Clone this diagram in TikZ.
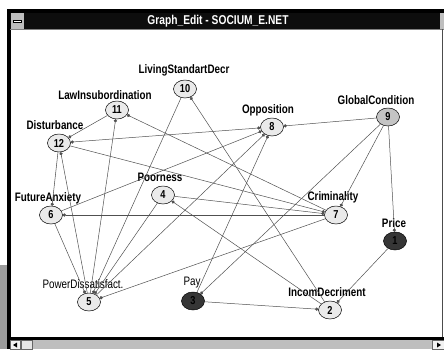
\documentclass[tikz,border=0pt]{standalone}
\usepackage{fontspec}
\setmainfont{Liberation Sans}
\newfontfamily\narrowfont{Liberation Sans}[FakeStretch=0.8]
\usetikzlibrary{arrows.meta,shapes.geometric}

\definecolor{vfill}{HTML}{EAEAEA}
\definecolor{gfill}{HTML}{C4C4C4}
\definecolor{dfill}{HTML}{363636}
\definecolor{linegray}{HTML}{505050}
\definecolor{wingray}{HTML}{BEBEBE}
\definecolor{desk}{HTML}{9C9C9C}

\begin{document}
\begin{tikzpicture}[x=1pt,y=-1pt,
    vertex/.style={ellipse,draw=black,line width=0.5pt,fill=vfill,minimum width=23pt,
      minimum height=18pt,inner sep=0pt,font=\narrowfont\bfseries\fontsize{11.5}{11}\selectfont},
    vlabel/.style={inner sep=0pt,font=\narrowfont\bfseries\fontsize{12.3}{12}\selectfont},
    plainlabel/.style={inner sep=0pt,font=\narrowfont\fontsize{12.3}{12}\selectfont},
    link/.style={draw=linegray,line width=0.5pt,-{Circle[length=3.2pt]}}]
  \useasboundingbox (0,0) rectangle (444,349);

  % window
  \fill[desk] (0,265) rectangle (7,349);
  \fill[black] (7,9) rectangle (444,13);
  \fill[black] (7,9) rectangle (10.5,349);
  \fill[black!95] (10,13) rectangle (440,29);
  \draw[gray,line width=0.8pt] (10,29) -- (444,29);
  \fill[wingray] (10.5,13) rectangle (24,29);
  \draw[black,fill=white,line width=0.5pt] (13,20) rectangle (21,22.5);
  \fill[wingray] (440,13) rectangle (444,29);
  \draw[black!70,line width=0.8pt] (442,29) -- (442,338);
  \node[vlabel,text=white,font=\narrowfont\bfseries\fontsize{12.8}{12}\selectfont]
    (title) at (218,21) {Graph\_Edit - SOCIUM\_E.NET};
  \fill[black] (10,337) rectangle (444,340);
  \fill[wingray] (10.5,340) rectangle (444,349);
  \draw[black!60,fill=white!90!gray,line width=0.5pt] (10.5,340.5) rectangle (20,349);
  \fill[black] (13,345) -- (17,342.5) -- (17,347.5) -- cycle;
  \draw[black!60,fill=white!80!gray,line width=0.5pt] (21,340.5) rectangle (32,349);
  \draw[black!60,fill=white!90!gray,line width=0.5pt] (432,340.5) rectangle (444,349);
  \fill[black] (441,345) -- (437,342.5) -- (437,347.5) -- cycle;

  % nodes
  \node[vertex,fill=dfill] (n1) at (395,241) {1};
  \node[vertex] (n2) at (330,310) {2};
  \node[vertex,fill=dfill] (n3) at (193,301) {3};
  \node[vertex] (n4) at (163,195) {4};
  \node[vertex] (n5) at (89,302) {5};
  \node[vertex] (n6) at (51,215) {6};
  \node[vertex] (n7) at (336,215) {7};
  \node[vertex] (n8) at (272,127) {8};
  \node[vertex,fill=gfill] (n9) at (388,117) {9};
  \node[vertex] (n10) at (185,89) {10};
  \node[vertex] (n11) at (117,110) {11};
  \node[vertex] (n12) at (59,143) {12};

  \node[vlabel] (l10) at (184,70) {LivingStandartDecr};
  \node[vlabel] (l11) at (105,95) {LawInsubordination};
  \node[vlabel] (l12) at (55,125) {Disturbance};
  \node[vlabel] (l8) at (268,110) {Opposition};
  \node[vlabel] (l9) at (376,100) {GlobalCondition};
  \node[vlabel] (l4) at (160,177) {Poorness};
  \node[vlabel] (l6) at (48,198) {FutureAnxiety};
  \node[vlabel] (l7) at (333,197) {Criminality};
  \node[vlabel] (l1) at (394,223) {Price};
  \node[plainlabel] (l5) at (83,284) {PowerDissatisfact.};
  \node[plainlabel] (l3) at (192,283) {Pay};
  \node[vlabel] (l2) at (327,292) {IncomDecriment};

  % links
  \foreach \a/\b in {9/8,9/7,9/1,9/3,1/2,3/2,2/10,10/5,5/11,11/12,7/11,12/6,5/12,
                     12/7,6/5,7/6,6/8,4/7,2/4,4/5,3/8,5/8,7/5}
    \draw[link] (n\a) -- (n\b);
  \draw[link,{Circle[length=3.2pt]}-{Circle[length=3.2pt]}] (n12) -- (n8);
\end{tikzpicture}
\end{document}
